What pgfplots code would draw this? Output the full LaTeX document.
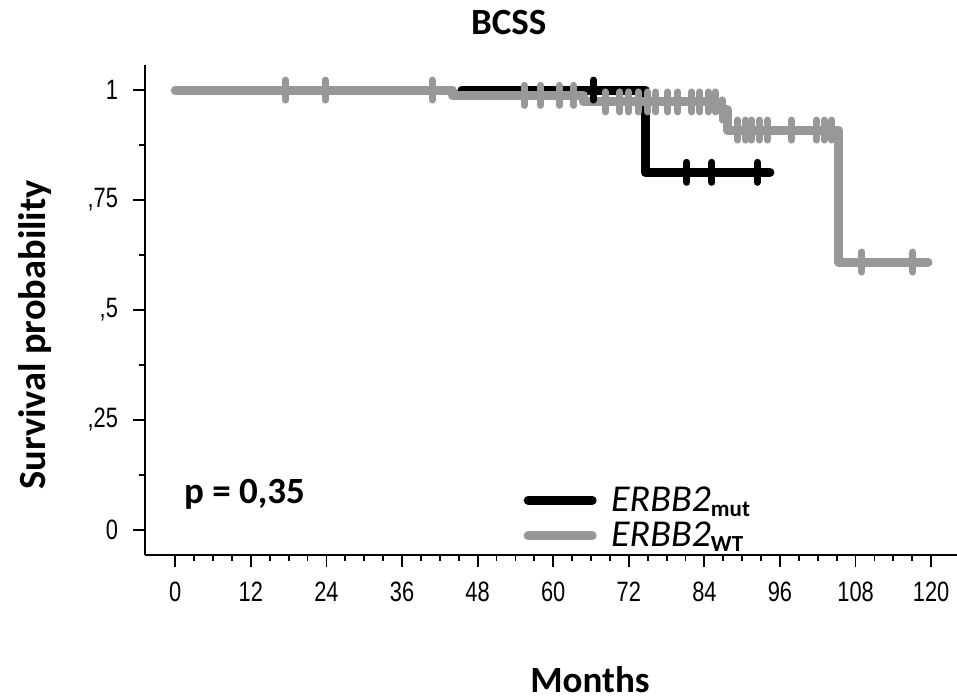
\documentclass[border=0pt]{standalone}
\usepackage{fontspec}
\setmainfont{Carlito}
\newfontfamily\tickfont[FakeStretch=0.78]{Liberation Sans}
\usepackage{pgfplots}
\pgfplotsset{compat=1.18}
\definecolor{wtgray}{RGB}{152,152,152}

\begin{document}
\begin{tikzpicture}
\begin{axis}[
    name=ax,
    scale only axis,
    width=406pt, height=245pt,
    xmin=-4.8, xmax=124.1,
    ymin=-0.057, ymax=1.057,
    axis x line=bottom, axis y line=left,
    axis line style={-, line width=0.9pt},
    tick align=outside,
    tick style={black, line width=0.9pt},
    major tick length=6pt, minor tick length=3pt,
    xtick={0,12,...,120}, minor x tick num=3,
    ytick={0,0.25,0.5,0.75,1},
    yticklabels={0,{,25},{,5},{,75},1},
    minor y tick num=1,
    ticklabel style={font=\tickfont\fontsize{14}{14}\selectfont},
    /pgf/number format/assume math mode=true,
    xticklabel style={yshift=-4pt},
    yticklabel style={xshift=-4pt},
    title={BCSS},
    title style={at={(rel axis cs:0.448,1)}, anchor=base, yshift=9pt,
                 font=\fontsize{18.5}{20}\selectfont\bfseries},
    xlabel={Months},
    xlabel style={at={(rel axis cs:0.548,0)}, anchor=base, yshift=-68.5pt,
                  font=\fontsize{18.5}{20}\selectfont\bfseries},
    ylabel={Survival probability},
    ylabel style={at={(rel axis cs:0,0.449)}, anchor=center, yshift=55pt,
                  font=\fontsize{19.2}{20}\selectfont\bfseries},
    legend style={draw=none, fill=none, at={(axis cs:54.3,0.027)}, anchor=west,
                  font=\fontsize{19}{19}\selectfont, cells={anchor=west},
                  row sep=0pt},
    legend image code/.code={\draw[#1, line cap=round] (0pt,0pt) -- (32pt,0pt);
                             \path[draw=none] (0pt,0pt) -- (39.5pt,0pt);},
]
% ERBB2 mut
\addplot[black, line width=4.5pt, const plot, line join=round, line cap=round]
  coordinates {(45.5,1)(74.6,0.813)(94.4,0.813)};
\addlegendentry{\itshape ERBB2\raisebox{-2.5pt}{\fontsize{11.5}{11.5}\selectfont\bfseries\upshape mut}}
% ERBB2 WT
\addplot[wtgray, line width=4.5pt, const plot, line join=round, line cap=round]
  coordinates {(0,1)(44,0.988)(64.8,0.973)(86,0.955)(87.6,0.909)(105.3,0.609)(119.5,0.609)};
\addlegendentry{\itshape ERBB2\raisebox{-2.5pt}{\fontsize{11.5}{11.5}\selectfont\bfseries\upshape WT}}
% censored, mut
\addplot[black, only marks, mark=|, mark size=5pt,
         mark options={line width=3.5pt, line cap=round}, forget plot]
  coordinates {(66.4,1)(81.2,0.813)(85.2,0.813)(92.4,0.813)};
% censored, WT
\addplot[wtgray, only marks, mark=|, mark size=5pt,
         mark options={line width=3.5pt, line cap=round}, forget plot]
  coordinates {(17.5,1)(23.8,1)(40.8,1)
               (55.4,0.988)(58,0.988)(61,0.988)(63.3,0.988)
               (68.3,0.973)(70.6,0.973)(72,0.973)(73.5,0.973)(75,0.973)(76.3,0.973)
               (78.2,0.973)(79.8,0.973)(82,0.973)(83.3,0.973)(84.6,0.973)(85.7,0.973)
               (86.8,0.955)
               (89.3,0.909)(90.5,0.909)(91.5,0.909)(92.7,0.909)(94,0.909)
               (97.8,0.909)(101.8,0.909)(103,0.909)(104.2,0.909)
               (109,0.609)(117.1,0.609)};
\node[font=\fontsize{18.5}{20}\selectfont\bfseries] at (axis cs:11,0.08) {p = 0,35};
\end{axis}
\pgfresetboundingbox
\path (ax.south west) ++(-72.5pt,-72.5pt) rectangle ++(478.5pt,350pt);
\end{tikzpicture}
\end{document}
